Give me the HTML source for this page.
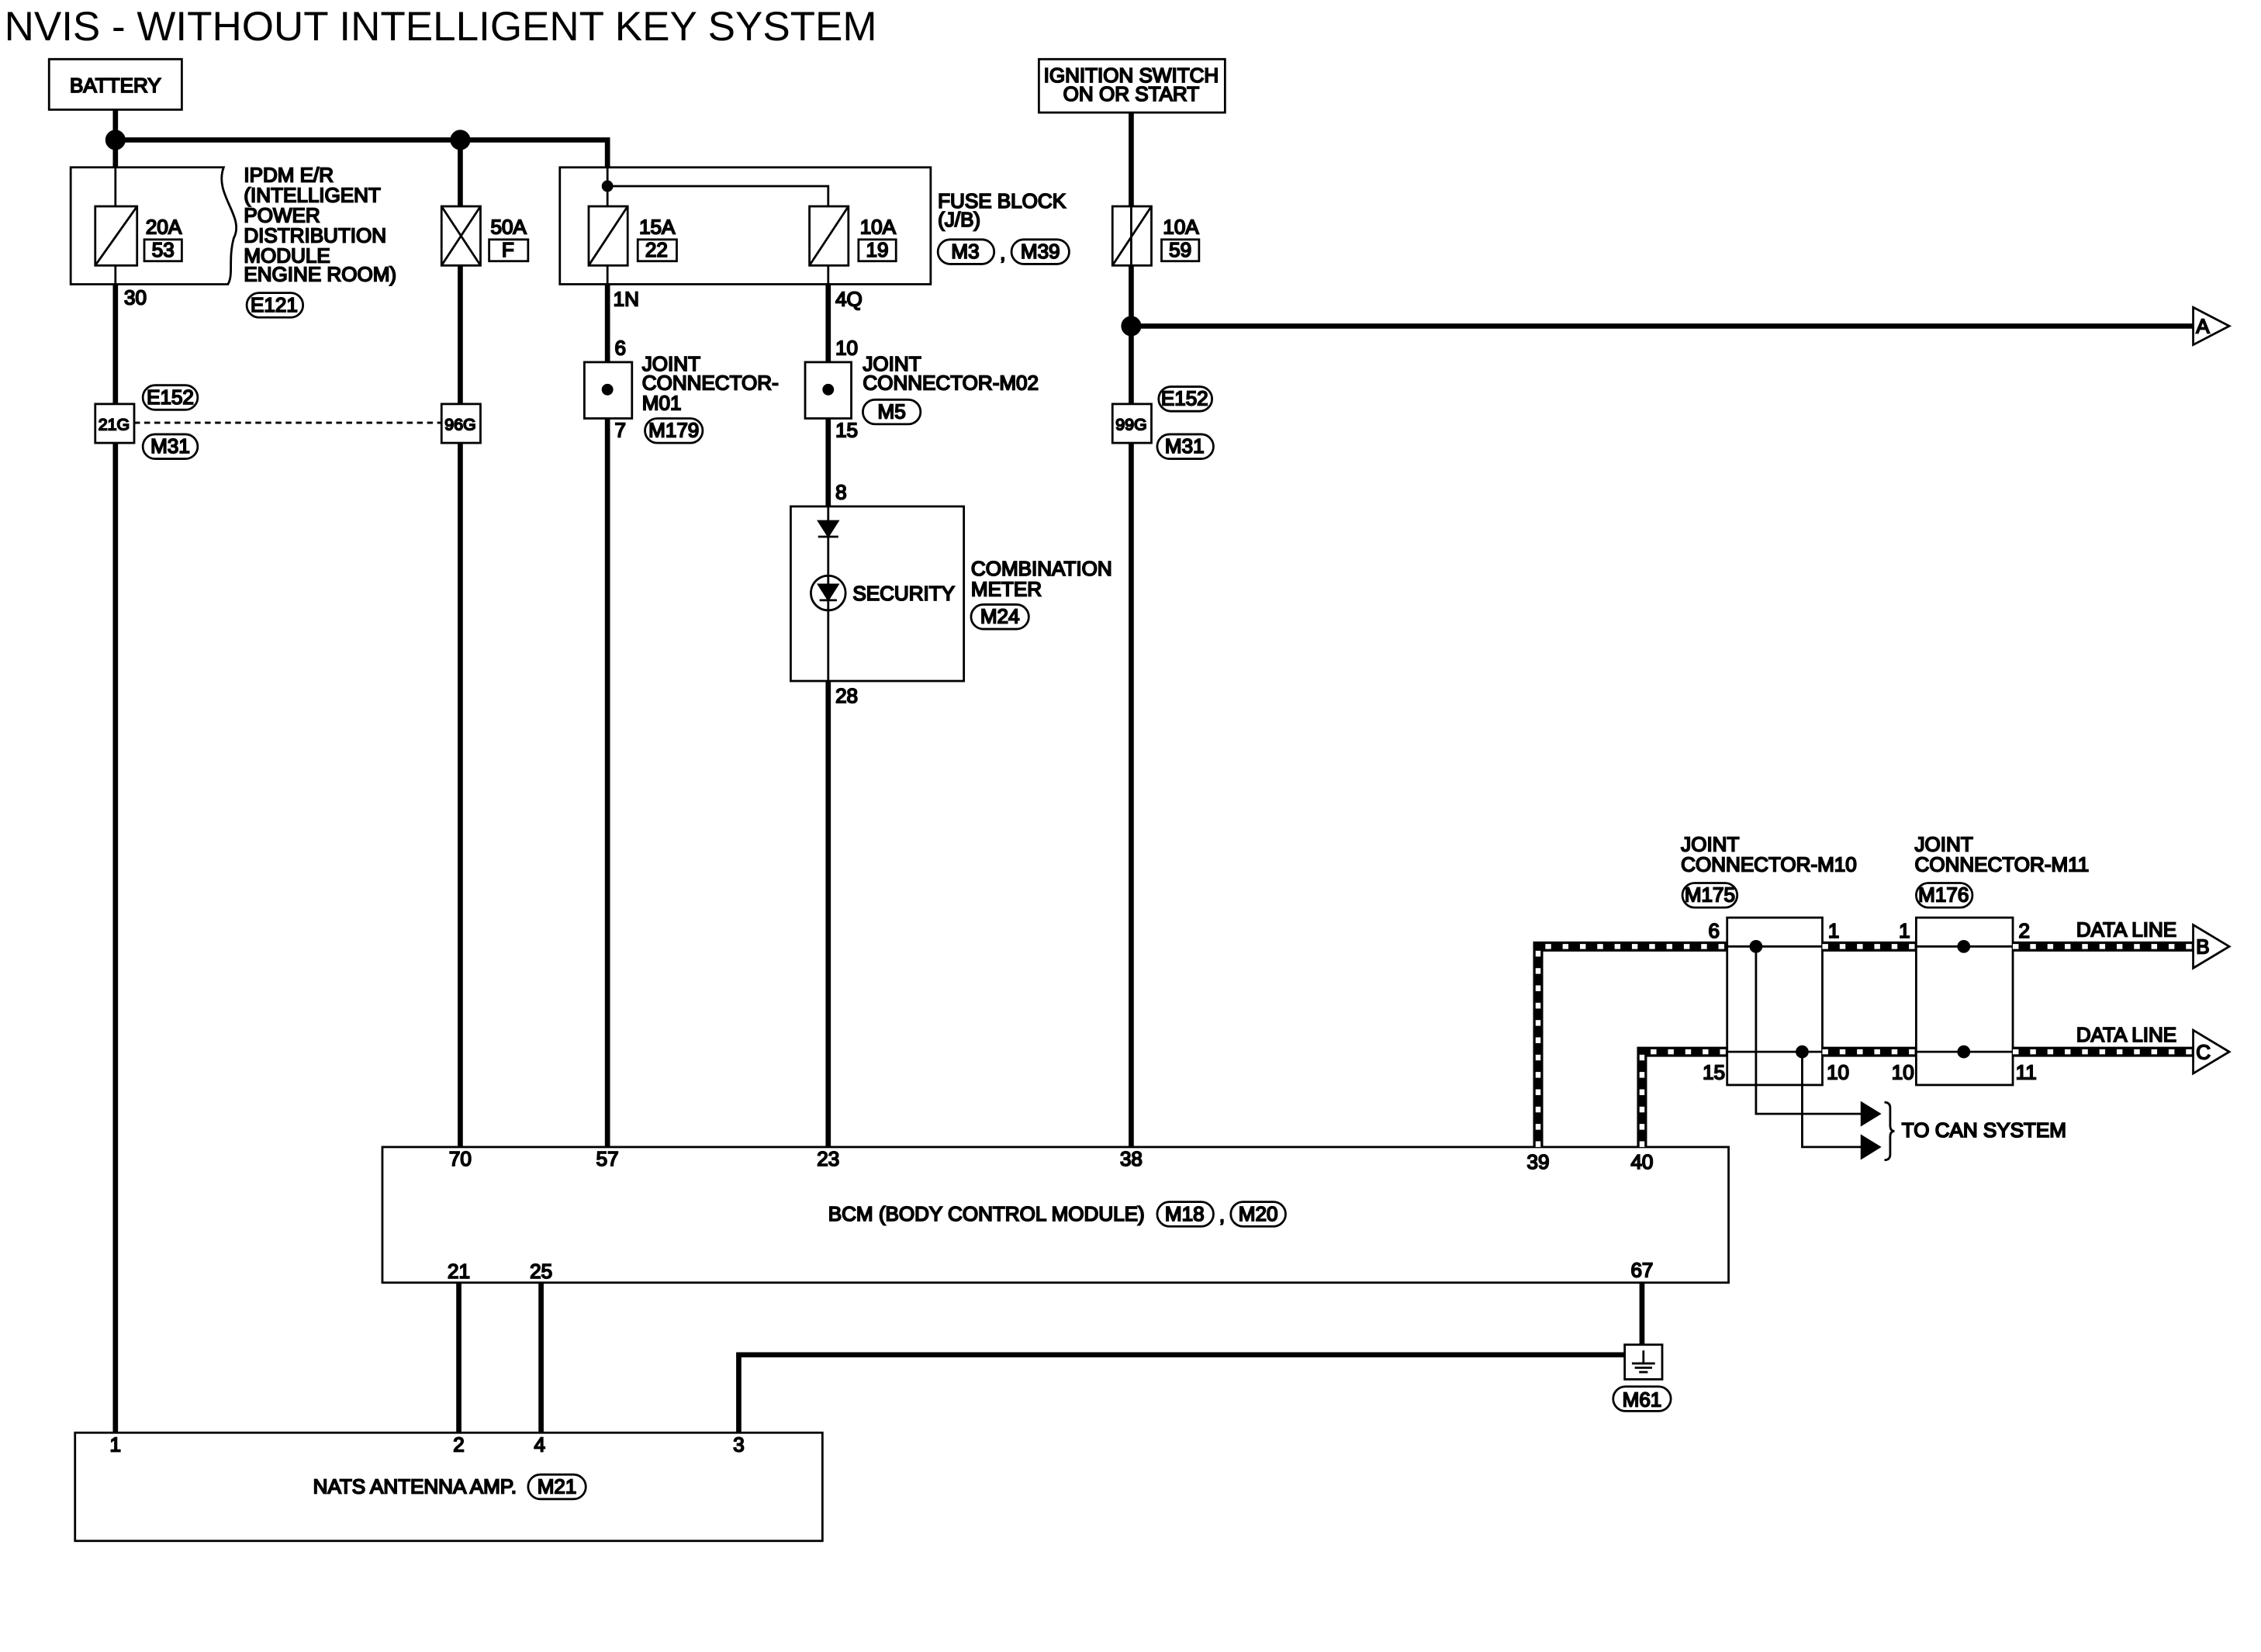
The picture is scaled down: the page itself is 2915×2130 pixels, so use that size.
<!DOCTYPE html>
<html><head><meta charset="utf-8"><style>
html,body{margin:0;padding:0;background:#fff;}
svg{display:block;}
text{font-family:"Liberation Sans",sans-serif;font-weight:normal;fill:#000;font-size:14px;}
</style></head><body>
<svg width="2915" height="2130" viewBox="0 0 1567 1145" preserveAspectRatio="none" xmlns="http://www.w3.org/2000/svg">
<rect width="1567" height="1145" fill="#fff"/>
<text x="3" y="28" style="font-size:28.5px">NVIS - WITHOUT INTELLIGENT KEY SYSTEM</text>

<g fill="none" stroke="#000">
<g stroke-width="3.6">
<line x1="80" y1="76" x2="80" y2="116"/>
<line x1="80" y1="197" x2="80" y2="993"/>
<polyline points="80,97 421,97 421,116"/>
<line x1="319" y1="97" x2="319" y2="143"/>
<line x1="319" y1="184" x2="319" y2="795"/>
<line x1="421" y1="197" x2="421" y2="795"/>
<line x1="574" y1="197" x2="574" y2="351"/>
<line x1="574" y1="472" x2="574" y2="795"/>
<line x1="784" y1="78" x2="784" y2="143"/>
<line x1="784" y1="184" x2="784" y2="795"/>
<line x1="784" y1="226" x2="1520" y2="226"/>
<line x1="318" y1="889" x2="318" y2="993"/>
<line x1="375" y1="889" x2="375" y2="993"/>
<line x1="1138" y1="889" x2="1138" y2="932"/>
<polyline points="512,993 512,939 1126,939"/>
</g>
<g stroke-width="1.5">
<line x1="80" y1="116" x2="80" y2="143"/><line x1="80" y1="184" x2="80" y2="197"/>
<line x1="421" y1="116" x2="421" y2="143"/><line x1="421" y1="184" x2="421" y2="197"/>
<polyline points="421,129 574,129 574,143"/><line x1="574" y1="184" x2="574" y2="197"/>
<line x1="574" y1="351" x2="574" y2="472"/>
<line x1="784" y1="143" x2="784" y2="184"/>
</g>
<g stroke-width="1.5">
<rect x="34" y="41" width="92" height="35"/>
<rect x="720" y="41" width="129" height="37"/>
<path d="M49,116 H155 C148,135 170,150 162,165 C158,180 162,190 158,197 H49 Z"/>
<rect x="388" y="116" width="257" height="81"/>
<rect x="66" y="143" width="29" height="41"/><line x1="66" y1="184" x2="95" y2="143"/>
<rect x="306" y="143" width="27" height="41"/><line x1="306" y1="184" x2="333" y2="143"/><line x1="306" y1="143" x2="333" y2="184"/>
<rect x="408" y="143" width="27" height="41"/><line x1="408" y1="184" x2="435" y2="143"/>
<rect x="561" y="143" width="27" height="41"/><line x1="561" y1="184" x2="588" y2="143"/>
<rect x="771" y="143" width="27" height="41"/><line x1="771" y1="184" x2="798" y2="143"/>
<rect x="100" y="166" width="26" height="15"/>
<rect x="339" y="166" width="27" height="15"/>
<rect x="442" y="166" width="27" height="15"/>
<rect x="595" y="166" width="26" height="15"/>
<rect x="805" y="166" width="26" height="15"/>
<rect x="405" y="251" width="33" height="39" fill="#fff"/>
<rect x="558" y="251" width="32" height="39" fill="#fff"/>
<rect x="66" y="280" width="27" height="27" fill="#fff"/>
<rect x="306" y="280" width="27" height="27" fill="#fff"/>
<rect x="771" y="280" width="27" height="27" fill="#fff"/>
<line x1="93" y1="293" x2="306" y2="293" stroke-dasharray="4,3"/>
<rect x="548" y="351" width="120" height="121"/>
<rect x="265" y="795" width="933" height="94"/>
<rect x="52" y="993" width="518" height="75"/>
<rect x="1126" y="932" width="26" height="24"/>
<rect x="1197" y="636" width="66" height="116"/>
<rect x="1328" y="636" width="67" height="116"/>
<line x1="1197" y1="656" x2="1263" y2="656"/><line x1="1197" y1="729" x2="1263" y2="729"/>
<line x1="1328" y1="656" x2="1395" y2="656"/><line x1="1328" y1="729" x2="1395" y2="729"/>
<polyline points="1217,656 1217,772 1290,772"/>
<polyline points="1249,729 1249,795 1290,795"/>
<path d="M1306,764 q4,0 4,4 v12 q0,4 3,4 q-3,0 -3,4 v12 q0,4 -4,4"/>
<line x1="1139" y1="936" x2="1139" y2="945"/>
<line x1="1131" y1="945" x2="1147" y2="945"/><line x1="1133" y1="948" x2="1145" y2="948"/><line x1="1136" y1="951" x2="1142" y2="951"/>
<circle cx="574" cy="411" r="12"/>
<line x1="567" y1="372" x2="581" y2="372"/>
<line x1="568" y1="416" x2="580" y2="416"/>
<path d="M1520,213 L1545,226 L1520,239 Z" fill="#fff"/>
<path d="M1520,641 L1545,656 L1520,671 Z" fill="#fff"/>
<path d="M1520,714 L1545,729 L1520,744 Z" fill="#fff"/>
</g>
<g fill="#fff" stroke="#000" stroke-width="1.5">
<rect x="171" y="203" width="39" height="17" rx="8.5"/>
<rect x="99" y="267" width="38" height="17" rx="8.5"/>
<rect x="99" y="301" width="38" height="17" rx="8.5"/>
<rect x="803" y="268" width="37" height="17" rx="8.5"/>
<rect x="802" y="301" width="39" height="17" rx="8.5"/>
<rect x="650" y="166" width="39" height="17" rx="8.5"/>
<rect x="701" y="166" width="40" height="17" rx="8.5"/>
<rect x="447" y="290" width="40" height="17" rx="8.5"/>
<rect x="598" y="277" width="40" height="17" rx="8.5"/>
<rect x="673" y="419" width="40" height="17" rx="8.5"/>
<rect x="802" y="833" width="39" height="17" rx="8.5"/>
<rect x="853" y="833" width="38" height="17" rx="8.5"/>
<rect x="1118" y="961" width="40" height="17" rx="8.5"/>
<rect x="366" y="1022" width="40" height="17" rx="8.5"/>
<rect x="1166" y="612" width="38" height="17" rx="8.5"/>
<rect x="1328" y="612" width="39" height="17" rx="8.5"/>
</g>
<g fill="none">
<g stroke="#000" stroke-width="7">
<polyline points="1066,795 1066,656 1197,656"/><line x1="1263" y1="656" x2="1328" y2="656"/><line x1="1395" y1="656" x2="1520" y2="656"/>
<polyline points="1138,795 1138,729 1197,729"/><line x1="1263" y1="729" x2="1328" y2="729"/><line x1="1395" y1="729" x2="1520" y2="729"/>
</g>
<g stroke="#fff" stroke-width="3.5" stroke-dasharray="4,8">
<polyline points="1066,795 1066,656 1197,656"/><line x1="1263" y1="656" x2="1328" y2="656"/><line x1="1395" y1="656" x2="1520" y2="656"/>
<polyline points="1138,795 1138,729 1197,729"/><line x1="1263" y1="729" x2="1328" y2="729"/><line x1="1395" y1="729" x2="1520" y2="729"/>
</g>
</g>
<g fill="#000">
<circle cx="80" cy="97" r="6.5"/><circle cx="319" cy="97" r="6.5"/><circle cx="784" cy="226" r="6.5"/>
<circle cx="421" cy="129" r="3.5"/>
<circle cx="421" cy="270" r="3.5"/><circle cx="574" cy="270" r="3.5"/>
<circle cx="1217" cy="656" r="4"/><circle cx="1249" cy="729" r="4"/>
<circle cx="1361" cy="656" r="4"/><circle cx="1361" cy="729" r="4"/>
<path d="M567,361 L581,361 L574,372 Z"/>
<path d="M567,405 L581,405 L574,416 Z"/>
<path d="M1290,764 L1303,772 L1290,780 Z"/>
<path d="M1290,787 L1303,795 L1290,803 Z"/>
</g>

<text x="80" y="64" text-anchor="middle">BATTERY</text>
<text x="784" y="57" text-anchor="middle">IGNITION SWITCH</text>
<text x="784" y="70" text-anchor="middle">ON OR START</text>
<text x="169" y="126">IPDM E/R</text>
<text x="169" y="140">(INTELLIGENT</text>
<text x="169" y="154">POWER</text>
<text x="169" y="168">DISTRIBUTION</text>
<text x="169" y="182">MODULE</text>
<text x="169" y="195">ENGINE ROOM)</text>
<text x="190" y="216" text-anchor="middle">E121</text>
<text x="101" y="162">20A</text><text x="113" y="178" text-anchor="middle">53</text>
<text x="340" y="162">50A</text><text x="352" y="178" text-anchor="middle">F</text>
<text x="443" y="162">15A</text><text x="455" y="178" text-anchor="middle">22</text>
<text x="596" y="162">10A</text><text x="608" y="178" text-anchor="middle">19</text>
<text x="806" y="162">10A</text><text x="818" y="178" text-anchor="middle">59</text>
<text x="650" y="144">FUSE BLOCK</text>
<text x="650" y="157">(J/B)</text>
<text x="669" y="179" text-anchor="middle">M3</text><text x="693" y="180">,</text><text x="721" y="179" text-anchor="middle">M39</text>
<text x="86" y="211">30</text>
<text x="425" y="212">1N</text>
<text x="579" y="212">4Q</text>
<text x="118" y="280" text-anchor="middle">E152</text>
<text x="118" y="314" text-anchor="middle">M31</text>
<text x="79" y="298" text-anchor="middle" style="font-size:11.5px">21G</text>
<text x="319" y="298" text-anchor="middle" style="font-size:11.5px">96G</text>
<text x="784" y="298" text-anchor="middle" style="font-size:11.5px">99G</text>
<text x="821" y="281" text-anchor="middle">E152</text>
<text x="821" y="314" text-anchor="middle">M31</text>
<text x="426" y="246">6</text><text x="426" y="303">7</text>
<text x="445" y="257">JOINT</text><text x="445" y="270">CONNECTOR-</text><text x="445" y="284">M01</text>
<text x="467" y="303" text-anchor="middle">M179</text>
<text x="579" y="246">10</text><text x="579" y="303">15</text>
<text x="598" y="257">JOINT</text><text x="598" y="270">CONNECTOR-M02</text>
<text x="618" y="290" text-anchor="middle">M5</text>
<text x="579" y="346">8</text>
<text x="591" y="416">SECURITY</text>
<text x="579" y="487">28</text>
<text x="673" y="399">COMBINATION</text><text x="673" y="413">METER</text>
<text x="693" y="432" text-anchor="middle">M24</text>
<text x="319" y="808" text-anchor="middle">70</text>
<text x="421" y="808" text-anchor="middle">57</text>
<text x="574" y="808" text-anchor="middle">23</text>
<text x="784" y="808" text-anchor="middle">38</text>
<text x="1066" y="810" text-anchor="middle">39</text>
<text x="1138" y="810" text-anchor="middle">40</text>
<text x="574" y="846">BCM (BODY CONTROL MODULE)</text>
<text x="821" y="846" text-anchor="middle">M18</text><text x="845" y="847">,</text><text x="872" y="846" text-anchor="middle">M20</text>
<text x="318" y="886" text-anchor="middle">21</text>
<text x="375" y="886" text-anchor="middle">25</text>
<text x="1138" y="885" text-anchor="middle">67</text>
<text x="1138" y="975" text-anchor="middle">M61</text>
<text x="80" y="1006" text-anchor="middle">1</text>
<text x="318" y="1006" text-anchor="middle">2</text>
<text x="374" y="1006" text-anchor="middle">4</text>
<text x="512" y="1006" text-anchor="middle">3</text>
<text x="217" y="1035">NATS ANTENNA AMP.</text>
<text x="386" y="1035" text-anchor="middle">M21</text>
<text x="1165" y="590">JOINT</text><text x="1165" y="604">CONNECTOR-M10</text>
<text x="1185" y="625" text-anchor="middle">M175</text>
<text x="1327" y="590">JOINT</text><text x="1327" y="604">CONNECTOR-M11</text>
<text x="1347" y="625" text-anchor="middle">M176</text>
<text x="1184" y="650">6</text><text x="1267" y="650">1</text><text x="1316" y="650">1</text><text x="1399" y="650">2</text>
<text x="1180" y="748">15</text><text x="1266" y="748">10</text><text x="1311" y="748">10</text><text x="1397" y="748">11</text>
<text x="1439" y="649">DATA LINE</text>
<text x="1439" y="722">DATA LINE</text>
<text x="1318" y="788">TO CAN SYSTEM</text>
<text x="1522" y="231">A</text>
<text x="1522" y="661">B</text>
<text x="1522" y="734">C</text>
</svg>
</body></html>
